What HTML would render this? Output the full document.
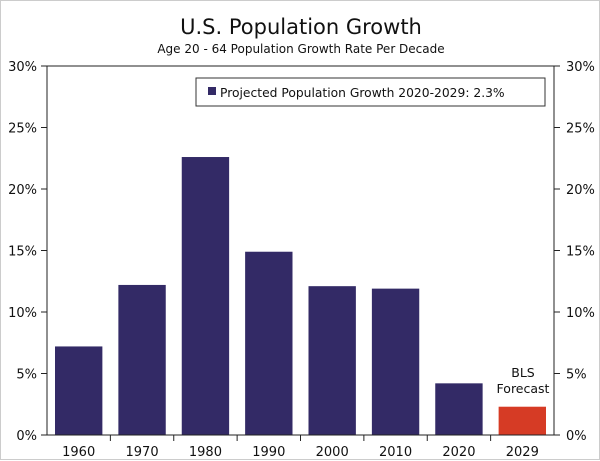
<!DOCTYPE html>
<html><head><meta charset="utf-8"><style>
body{margin:0;background:#fff;font-family:"DejaVu Sans","Liberation Sans",sans-serif}
#wrap{position:relative;width:600px;height:460px;box-sizing:border-box;border:1px solid #ccc}
</style></head><body>
<div id="wrap">
<svg id="chart" width="600" height="460" style="position:absolute;left:0;top:0;font-family:'DejaVu Sans','Liberation Sans',sans-serif">
<text x="300" y="33" text-anchor="middle" font-size="21" fill="#111">U.S. Population Growth</text>
<text x="300" y="52" text-anchor="middle" font-size="12" fill="#111">Age 20 - 64 Population Growth Rate Per Decade</text>
<g id="bars"></g>
<g id="axes"></g>
<rect x="195" y="77" width="349" height="28" fill="#fff" stroke="#333"/>
<rect x="207" y="86" width="8" height="8" fill="#332a66"/>
<text x="219" y="96" font-size="12.3" fill="#111">Projected Population Growth 2020-2029: 2.3%</text>
<text x="522" y="376" text-anchor="middle" font-size="12.5" fill="#111">BLS</text>
<text x="522" y="392" text-anchor="middle" font-size="12.5" fill="#111">Forecast</text>
</svg>
</div>
<script>
const categories=["1960","1970","1980","1990","2000","2010","2020","2029"];
const values=[7.2,12.2,22.6,14.9,12.1,11.9,4.2,2.3];
const tickValues=[0,5,10,15,20,25,30];
const tickLabels=["0%","5%","10%","15%","20%","25%","30%"];
const NS="http://www.w3.org/2000/svg";
const L=46,R=553,T=65,B=434;
const y=v=>B-(v/30)*(B-T);
const cw=(R-L)/categories.length;
const x=i=>L+i*cw;
function mk(tag,attrs,parent){const e=document.createElementNS(NS,tag);for(const k in attrs)e.setAttribute(k,attrs[k]);parent.appendChild(e);return e;}
const bars=document.getElementById('bars'),axes=document.getElementById('axes');
values.forEach((v,i)=>{
 const r=mk('rect',{x:x(i)+8,y:y(v),width:cw-16,height:B-y(v),fill:i===values.length-1?'#d63b25':'#332a66'},bars);
 
 
 const t=mk('text',{x:x(i)+cw/2,y:455,'text-anchor':'middle','font-size':13,fill:'#111'},axes);
 t.textContent=categories[i];
 
 
});
const fr=mk('rect',{x:L,y:T,width:R-L,height:B-T,fill:'none',stroke:'#222','stroke-width':1},axes);


tickValues.forEach((v,i)=>{
 mk('line',{x1:L-6,x2:L,y1:y(v),y2:y(v),stroke:'#222'},axes);
 mk('line',{x1:R,x2:R+6,y1:y(v),y2:y(v),stroke:'#222'},axes);
 const a=mk('text',{x:36,y:y(v)+5,'text-anchor':'end','font-size':13,fill:'#111'},axes);
 a.textContent=tickLabels[i];
 
 
 const b=mk('text',{x:565,y:y(v)+5,'text-anchor':'start','font-size':13,fill:'#111'},axes);
 b.textContent=tickLabels[i];
 
 
});
for(let i=1;i<categories.length;i++){mk('line',{x1:x(i),x2:x(i),y1:B,y2:B+6,stroke:'#222'},axes);}
</script>
</body></html>
